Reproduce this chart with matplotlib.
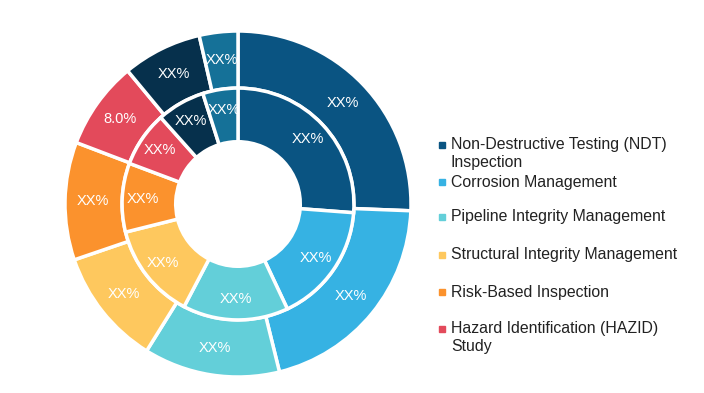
import matplotlib
matplotlib.use("Agg")
import matplotlib.pyplot as plt
from matplotlib.patches import Rectangle

plt.rcParams['font.family'] = ['Liberation Sans', 'DejaVu Sans']

segments = ["Non-Destructive Testing (NDT)\nInspection", "Corrosion Management",
            "Pipeline Integrity Management", "Structural Integrity Management",
            "Risk-Based Inspection", "Hazard Identification (HAZID)\nStudy",
            "Other A", "Other B"]
outer_values = [25.6, 20.5, 12.7, 10.9, 11.0, 8.2, 7.4, 3.6]
inner_values = [26.2, 16.8, 14.7, 13.4, 9.6, 7.7, 6.7, 4.9]
outer_labels = ["XX%", "XX%", "XX%", "XX%", "XX%", "8.0%", "XX%", "XX%"]
inner_labels = ["XX%"] * 8
colors = ["#0A5482", "#36B2E3", "#63CFD9", "#FEC85E", "#FB922D", "#E34A5B", "#06304C", "#157198"]
legend_count = 6

W, H = 704, 393
fig = plt.figure(figsize=(W / 100, H / 100), dpi=100)
cx, cy, R = 238, 204, 173
ax = fig.add_axes([(cx - R) / W, (H - cy - R) / H, 2 * R / W, 2 * R / H])
ax.axis('off')

wp = dict(edgecolor='white', linewidth=2.5)
ax.pie(outer_values, radius=1.0, colors=colors, startangle=90, counterclock=False,
       labels=outer_labels, labeldistance=0.84,
       textprops=dict(color='white', fontsize=10.5, ha='center', va='center'),
       wedgeprops=dict(width=0.33, **wp))
ax.pie(inner_values, radius=0.67, colors=colors, startangle=90, counterclock=False,
       labels=inner_labels, labeldistance=0.82,
       textprops=dict(color='white', fontsize=10.5, ha='center', va='center'),
       wedgeprops=dict(width=0.31, **wp))
ax.set_xlim(-1, 1)
ax.set_ylim(-1, 1)
ax.set_aspect('equal')

# legend
ys = [145, 182, 217, 255, 292, 329]
for i in range(legend_count):
    y = ys[i]
    fig.patches.append(Rectangle((439 / W, (H - y - 3) / H), 6 / W, 6 / H,
                                 transform=fig.transFigure, color=colors[i]))
    for j, line in enumerate(segments[i].split("\n")):
        fig.text(451 / W, (H - y - 17 * j) / H, line, fontsize=11.4, color='#222222',
                 ha='left', va='center')
fig.savefig("out.png", dpi=100)
